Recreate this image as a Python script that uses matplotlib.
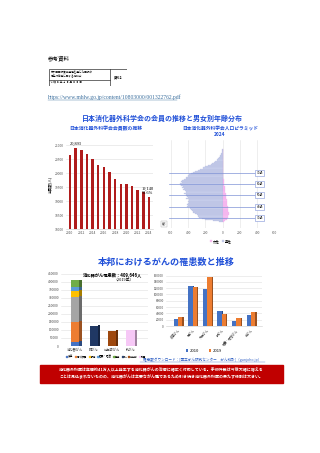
import matplotlib
matplotlib.use("Agg")
import matplotlib.pyplot as plt
from matplotlib.patches import Rectangle

plt.rcParams['font.family'] = ['Noto Sans CJK JP', 'DejaVu Sans']

W, H = 320, 453

# 会員数の推移
years = list(range(2010, 2025))
members = [20651, 20893, 20810, 20672, 20488, 20270, 20201, 20049,
           19796, 19623, 19599, 19520, 19406, 19312, 19140]
year_ticks = list(range(2010, 2025, 2))

# 人口ピラミッド 2024 (27歳〜90歳)
ages = list(range(27, 91))
male = [40, 110, 200, 240, 270, 290, 300, 320, 340, 350, 360, 370, 380, 410,
        400, 410, 405, 390, 400, 395, 420, 400, 410, 420, 420, 445, 430, 440,
        455, 450, 470, 460, 480, 490, 470, 480, 470, 450, 430, 420, 400, 390,
        370, 340, 320, 290, 260, 230, 200, 170, 140, 120, 100, 85, 70, 55,
        45, 35, 25, 20, 15, 12, 8, 5]
female = [10, 30, 45, 55, 60, 65, 68, 70, 68, 66, 64, 62, 60, 58, 56, 54, 52,
          50, 48, 46, 44, 42, 40, 38, 36, 34, 32, 30, 28, 26, 24, 22, 20, 18,
          16, 14, 12, 10, 9, 8, 7, 6, 5, 4, 3, 3, 2, 2, 2, 1, 1, 1, 1, 1, 1,
          1, 0, 0, 0, 0, 0, 0, 0, 0]
age_marks = [70, 60, 50, 40, 30]

# 消化器がん罹患数 (2019年)
gi_parts = ['食道', '胃', '大腸', '肝臓', '胆嚢・胆管', '膵臓']
gi_values = [26382, 124319, 155625, 37296, 22159, 43865]
other_cats = ['肺がん', '前立腺がん', '乳がん']
other_values = [126548, 94748, 97812]
legend_names = gi_parts + ['肺', '前立腺', '乳房']

# がん種別 2010 / 2019
sites = ['食道がん', '胃がん', '大腸がん', '肝がん', '胆嚢・胆管がん', '膵がん']
inc_2010 = [23600, 125700, 118700, 48000, 14400, 34600]
inc_2019 = [29700, 124300, 155600, 39000, 24500, 46000]

BLUE_TITLE = '#1f4fd8'
RED_BAR = '#b01c1c'
part_colors = ['#4472c4', '#ed7d31', '#a5a5a5', '#ffc000', '#5b9bd5', '#70ad47']
other_colors = ['#203864', '#9e480e', '#f6c8f6']


def box(x0, y0, x1, y1):
    return [x0 / W, 1 - y1 / H, (x1 - x0) / W, (y1 - y0) / H]


def ftext(x, y, s, **kw):
    return fig.text(x / W, 1 - y / H, s, **kw)


def darker(c, f=0.65):
    r, g, b = matplotlib.colors.to_rgb(c)
    return (r * f, g * f, b * f)


fig = plt.figure(figsize=(W / 100, H / 100), dpi=100)
fig.patch.set_facecolor('white')

# ヘッダー
ftext(48, 58, '参考資料', fontsize=4, va='center')
ax_tab = fig.add_axes(box(49, 69, 127, 86))
ax_tab.set_xlim(0, 78)
ax_tab.set_ylim(17, 0)
ax_tab.axis('off')
ax_tab.add_patch(Rectangle((0, 0), 78, 17, fill=False, lw=0.5, color='#333333'))
ax_tab.plot([61, 61], [0, 17], lw=0.5, color='#333333')
ax_tab.plot([0, 61], [10.5, 10.5], lw=0.5, color='#333333')
ax_tab.text(1.5, 3, '第７回医師養成過程を通じた医師の', fontsize=1.9, va='center')
ax_tab.text(1.5, 7, '偏在対策等に関する検討会', fontsize=1.9, va='center')
ax_tab.text(1.5, 13.8, '令 和 ６ 年 １ ０ 月 ３ ０ 日', fontsize=1.9, va='center')
ax_tab.text(69.5, 8.5, '資料２', fontsize=2.2, va='center', ha='center',
            fontweight='bold')
ftext(48, 97, 'https://www.mhlw.go.jp/content/10803000/001322762.pdf',
      fontsize=4.1, va='center', color='#3b6f9e', family='Liberation Serif')
fig.add_artist(plt.Line2D([48 / W, 177 / W], [1 - 99.5 / H, 1 - 99.5 / H],
                          lw=0.3, color='#3b6f9e'))

ftext(162, 118, '日本消化器外科学会の会員の推移と男女別年齢分布', fontsize=5,
      fontweight='bold', color=BLUE_TITLE, ha='center', va='center')

# 会員数の推移
ftext(106, 129, '日本消化器外科学会会員数の推移', fontsize=3.5, fontweight='bold',
      color=BLUE_TITLE, ha='center', va='center')
ax1 = fig.add_axes(box(66, 140, 153, 229))
ax1.bar(years, members, width=0.45, color=RED_BAR, zorder=3)
ax1.set_ylim(18000, 21180)
ax1.set_xlim(2009.3, 2024.7)
ax1.set_yticks(range(18000, 21001, 500))
ax1.set_xticks(year_ticks)
ax1.tick_params(labelsize=2.4, length=0, pad=1.5, colors='#555555')
ax1.grid(axis='y', color='#dddddd', lw=0.4, zorder=0)
for s in ax1.spines.values():
    s.set_visible(False)
ax1.spines['bottom'].set_visible(True)
ax1.spines['bottom'].set_color('#cccccc')
ax1.spines['bottom'].set_linewidth(0.4)
ax1.set_ylabel('会員数(人)', fontsize=2.6, labelpad=2)
ax1.text(years[1], members[1] + 60, f'{members[1]:,}', fontsize=3.2,
         ha='center', va='bottom', family='Liberation Serif')
ax1.text(years[-1] - 0.2, members[-1] + 80,
         f'{members[-1]:,}\n{members[-1] / members[1] * 100:.1f}%',
         fontsize=3.2, ha='center', va='bottom', linespacing=0.9,
         family='Liberation Serif')

# 人口ピラミッド
ftext(220, 128, '日本消化器外科学会人口ピラミッド', fontsize=3.4, fontweight='bold',
      color=BLUE_TITLE, ha='center', va='center')
ftext(220, 134.5, '2024', fontsize=3.4, fontweight='bold',
      color=BLUE_TITLE, ha='center', va='center')
ax2 = fig.add_axes(box(171, 140, 274.3, 228))
ax2.barh(ages, [-m for m in male], height=1.0, color='#c9d0ec',
         edgecolor='#aab3dd', lw=0.15, zorder=3, label='男性')
ax2.barh(ages, female, height=1.0, color='#f8c2f2',
         edgecolor='#efa0e8', lw=0.15, zorder=3, label='女性')
ax2.set_xlim(-600, 600)
ax2.set_ylim(21.5, 98.5)
ax2.set_xticks(range(-600, 601, 200))
ax2.set_xticklabels([str(abs(v)) for v in range(-600, 601, 200)])
ax2.set_yticks([])
ax2.tick_params(labelsize=2.3, length=0, pad=2, colors='#555555')
ax2.grid(axis='x', color='#e2e2e2', lw=0.4, zorder=0)
for s in ax2.spines.values():
    s.set_visible(False)
for a in age_marks:
    ax2.plot([-620, 375], [a, a], color='#7f93d6', lw=0.5, zorder=4,
             clip_on=False)
    ax2.text(430, a, f'{a}歳', fontsize=2.2, ha='center', va='center', zorder=5,
             bbox=dict(boxstyle='square,pad=0.35', fc='white', ec='#7f93d6',
                       lw=0.4))
ax2.text(-680, 25, '年齢\n不詳', fontsize=1.6, ha='center', va='center',
         color='#666666', bbox=dict(boxstyle='square,pad=0.2', fc='white',
                                    ec='#aaaaaa', lw=0.3))
h, l = ax2.get_legend_handles_labels()
fig.legend(h[::-1], l[::-1], loc='center', bbox_to_anchor=(221 / W, 1 - 241 / H),
           ncol=2, fontsize=2.4, frameon=False, handlelength=0.6,
           handleheight=0.6, columnspacing=0.8, handletextpad=0.3)

# 本邦におけるがんの罹患数と推移
ftext(166, 262, '本邦におけるがんの罹患数と推移', fontsize=6.6, fontweight='bold',
      color=BLUE_TITLE, ha='center', va='center')

ax3 = fig.add_axes(box(61, 272, 148, 346))
bw, dw = 0.45, 0.12
bottom = 0
for v, c in zip(gi_values, part_colors):
    ax3.bar(0, v, bottom=bottom, width=bw, color=c, zorder=3)
    ax3.bar(bw / 2 + dw / 2, v, bottom=bottom + 3000, width=dw, color=darker(c),
            zorder=3)
    bottom += v
for i, (v, c) in enumerate(zip(other_values, other_colors), start=1):
    ax3.bar(i, v, width=bw, color=c, zorder=3)
    ax3.bar(i + bw / 2 + dw / 2, v, bottom=3000, width=dw, color=darker(c),
            zorder=3)
ax3.set_xlim(-0.78, 3.95)
ax3.set_ylim(0, 460000)
ax3.set_yticks(range(0, 450001, 50000))
ax3.set_xticks(range(4))
ax3.set_xticklabels(['消化器がん'] + other_cats)
ax3.tick_params(labelsize=2.3, length=0, pad=1.5, colors='#444444')
ax3.grid(axis='y', color='#e0e0e0', lw=0.4, zorder=0)
for s in ax3.spines.values():
    s.set_visible(False)
ax3.text(2.0, 440000, f'消化器がん罹患数：{sum(gi_values):,}人', fontsize=3.1,
         fontweight='bold', ha='center', va='center')
ax3.text(2.6, 410000, '（2019年）', fontsize=2.8, ha='center', va='center')
handles = [Rectangle((0, 0), 1, 1, color=c) for c in part_colors + other_colors]
fig.legend(handles, legend_names, loc='center',
           bbox_to_anchor=(106 / W, 1 - 356.5 / H), ncol=9, fontsize=1.9,
           frameon=False, handlelength=0.5, handleheight=0.5,
           columnspacing=0.5, handletextpad=0.2)

ax4 = fig.add_axes(box(166, 274, 262, 326))
x = list(range(len(sites)))
w = 0.3
ax4.bar([i - w / 2 for i in x], inc_2010, width=w, color='#4472c4', zorder=3,
        label='2010')
ax4.bar([i + w / 2 for i in x], inc_2019, width=w, color='#ed7d31', zorder=3,
        label='2019')
ax4.bar([i + 0.04 for i in x], inc_2010, width=0.08, color=darker('#4472c4'),
        zorder=2)
ax4.bar([i + w + 0.04 for i in x], inc_2019, width=0.08,
        color=darker('#ed7d31'), zorder=2)
ax4.set_xlim(-0.82, 5.75)
ax4.set_ylim(0, 165000)
ax4.set_yticks(range(0, 160001, 20000))
ax4.set_xticks(x)
ax4.set_xticklabels(sites, rotation=45, ha='right', rotation_mode='anchor')
ax4.tick_params(labelsize=2.2, length=0, pad=1.5, colors='#444444')
ax4.grid(axis='y', color='#e0e0e0', lw=0.4, zorder=0)
for s in ax4.spines.values():
    s.set_visible(False)
ax4.spines['bottom'].set_visible(True)
ax4.spines['bottom'].set_color('#cccccc')
ax4.spines['bottom'].set_linewidth(0.4)
fig.legend(*ax4.get_legend_handles_labels(), loc='center',
           bbox_to_anchor=(204 / W, 1 - 351 / H), ncol=2, fontsize=3,
           frameon=False, handlelength=0.5, handleheight=0.5,
           columnspacing=2.5, handletextpad=0.3)

ftext(202, 360, '罹患数ダウンロード：[国立がん研究センター　がん統計]（ganjoho.jp）',
      fontsize=2.6, color='#2f5fc4', ha='center', va='center')
fig.add_artist(plt.Line2D([140 / W, 265 / W], [1 - 362 / H, 1 - 362 / H],
                          lw=0.25, color='#2f5fc4'))

# 赤枠のまとめ
fig.add_artist(Rectangle((40 / W, 1 - 383 / H), 243 / W, 18.5 / H,
                         transform=fig.transFigure, color='#c00000'))
ftext(161.5, 369.5, '消化器外科医は年間約41万人以上発生する消化器がんの治療に幅広く対応している。'
      '手術件数は今後大幅に増える', fontsize=2.85, color='white', ha='center',
      va='center', fontweight='bold')
ftext(161.5, 377, 'ことは見込まれないものの、消化器がんは主要ながん種であるため引き続き'
      '消化器外科医の果たす役割は大きい。', fontsize=2.85, color='white',
      ha='center', va='center', fontweight='bold')

fig.savefig('out.png', dpi=100, facecolor='white')
